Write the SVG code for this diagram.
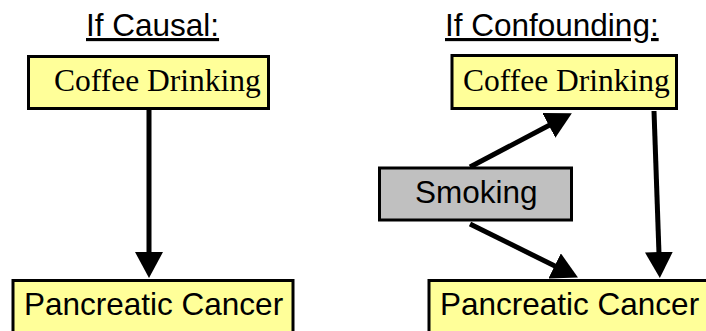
<svg xmlns="http://www.w3.org/2000/svg" width="706" height="331" viewBox="0 0 706 331">
<style>
.box{fill:#ffff99;stroke:#000;stroke-width:3}
.gray{fill:#c0c0c0;stroke:#000;stroke-width:3}
.sans{font-family:"Liberation Sans",Arial,sans-serif;font-size:31.5px;fill:#000}
.serif{font-family:"Liberation Serif","Times New Roman",serif;font-size:31.5px;fill:#000}
.title{text-decoration:underline}
.edge{stroke:#000;stroke-width:5;fill:none;marker-end:url(#ah)}
</style>
<defs>
<marker id="ah" markerUnits="userSpaceOnUse" markerWidth="26" markerHeight="28" refX="16" refY="14" orient="auto">
<path d="M0,0 L26,14 L0,28 z" fill="#000"/>
</marker>
</defs>
<rect width="706" height="331" fill="#fff"/>
<g id="title-causal"><text class="sans title" x="86" y="36">If Causal:</text></g>
<g id="title-confounding"><text class="sans title" x="445" y="36">If Confounding:</text></g>
<g id="connectors">
<line class="edge" x1="149" y1="110" x2="149" y2="268"/>
<line class="edge" x1="654" y1="111" x2="659.5" y2="268"/>
<line class="edge" x1="470" y1="167" x2="563" y2="118"/>
<line class="edge" x1="470" y1="224" x2="569" y2="273"/>
</g>
<g id="coffee-left"><rect class="box" x="28.5" y="56.5" width="240" height="52"/><text class="serif" x="54" y="91">Coffee Drinking</text></g>
<g id="pancreatic-left"><rect class="box" x="13" y="280.5" width="280" height="60"/><text class="sans" x="24" y="315">Pancreatic Cancer</text></g>
<g id="coffee-right"><rect class="box" x="452" y="55.5" width="224.5" height="53"/><text class="serif" x="463" y="91">Coffee Drinking</text></g>
<g id="smoking"><rect class="gray" x="379.5" y="168" width="192" height="52"/><text class="sans" x="415" y="203">Smoking</text></g>
<g id="pancreatic-right"><rect class="box" x="429" y="280.5" width="300" height="60"/><text class="sans" x="440" y="315">Pancreatic Cancer</text></g>
</svg>
